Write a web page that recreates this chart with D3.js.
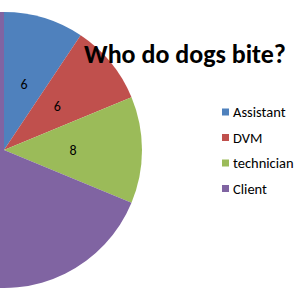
<!DOCTYPE html>
<html>
<head>
<meta charset="utf-8">
<script src="https://cdn.jsdelivr.net/npm/d3@7"></script>
<style>
  body { margin: 0; background: #fff; }
  svg { display: block; font-family: Carlito, "Open Sans", "Liberation Sans", sans-serif; }
</style>
</head>
<body>
<svg id="mainsvg" width="300" height="300"></svg>
<script>
// chart data
const categories = ['Assistant', 'DVM', 'technician', 'Client'];
const bites = [6, 6, 8, 44];
const colors = ['#4F81BD', '#C0504D', '#9BBB59', '#8064A2'];
const title = 'Who do dogs bite?';

const svg = d3.select('#mainsvg');
const cx = 4, cy = 150, radius = 138;

const data = categories.map((c, i) => ({ name: c, value: bites[i], color: colors[i] }));

const pie = d3.pie().value(d => d.value).sort(null);
const arc = d3.arc().innerRadius(0).outerRadius(radius);
const labelArc = d3.arc().innerRadius(radius * 0.5).outerRadius(radius * 0.5);

const g = svg.append('g').attr('transform', `translate(${cx}, ${cy})`);
const arcs = pie(data);

g.selectAll('path').data(arcs).enter().append('path')
    .attr('d', arc)
    .attr('fill', d => d.data.color);

// the client label falls left of the visible area, as in the original
g.selectAll('.slice_label').data(arcs.filter(d => labelArc.centroid(d)[0] + cx > 0))
    .enter().append('text')
    .attr('class', 'slice_label')
    .attr('transform', d => `translate(${labelArc.centroid(d)})`)
    .attr('text-anchor', 'middle')
    .attr('dy', '0.35em')
    .attr('font-size', '14px')
    .attr('fill', '#000')
    .text(d => d.data.value);

// title
svg.append('text')
    .attr('x', 185).attr('y', 63)
    .attr('text-anchor', 'middle')
    .attr('font-size', '26px')
    .attr('font-weight', 'bold')
    .attr('fill', '#000')
    .text(title);

// legend
const legend = svg.append('g').attr('transform', 'translate(222, 112)');
const rows = legend.selectAll('g').data(data).enter().append('g')
    .attr('transform', (d, i) => `translate(0, ${i * 25.5})`);
rows.append('rect')
    .attr('x', 0).attr('y', -3.5)
    .attr('width', 7).attr('height', 7)
    .attr('fill', d => d.color);
rows.append('text')
    .attr('x', 11).attr('dy', '0.35em')
    .attr('font-size', '14.5px')
    .attr('fill', '#000')
    .text(d => d.name);
</script>
</body>
</html>
